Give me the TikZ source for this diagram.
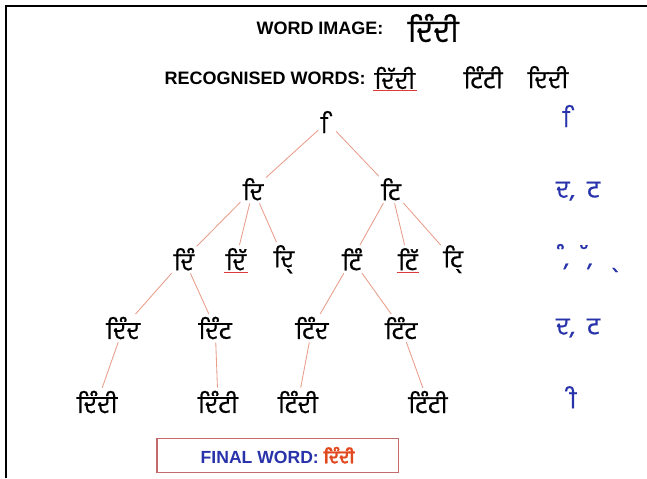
\documentclass[tikz,border=0pt]{standalone}
\usepackage{fontspec}
\setmainfont{Liberation Sans}
\newfontfamily\pa[Script=Gurmukhi, FakeBold=0.7]{Hind Jalandhar}
\usepackage{tikz}
\usetikzlibrary{positioning}

\definecolor{edgecol}{RGB}{232,156,138}
\definecolor{hintblue}{RGB}{40,50,170}
\definecolor{finalred}{RGB}{226,72,30}
\definecolor{boxred}{RGB}{196,106,106}
\definecolor{spellred}{RGB}{222,60,60}

\tikzset{
	word/.style={font=\pa\fontsize{17.5}{19}\selectfont, inner sep=1pt},
	hint/.style={font=\pa\fontsize{17.5}{19}\selectfont, text=hintblue, inner sep=1pt},
	caption/.style={font=\bfseries\fontsize{12.8}{14}\selectfont, inner sep=1pt},
	link/.style={draw=edgecol, line width=0.6pt, shorten >=1pt, shorten <=1pt},
	spell/.style={draw=spellred, line width=0.5pt}
}

\begin{document}
\begin{tikzpicture}[font=\small]
				\useasboundingbox (0,0) rectangle (16.175,-11.95);
				\draw[line width=1.4pt] (0.15,-11.95) -- (0.15,-0.15) -- (16.175,-0.15);
				
				% header
				\node[caption] (imglbl) at (8.0,-0.7) {WORD IMAGE:};
				\node[word, font=\pa\fontsize{22}{24}\selectfont, right=15pt of imglbl] (img) {ਦਿੰਦੀ};
				\node[caption] (reclbl) at (6.63,-1.95) {RECOGNISED WORDS:};
				\node[word, right=4pt of reclbl] (rw1) {ਦਿੱਦੀ};
				\node[word] (rw2) at (12.08,-1.93) {ਟਿੰਟੀ};
				\node[word] (rw3) at (13.7,-1.93) {ਦਿਦੀ};
				
				% tree
				\node[word] (root) at (8.18,-3.05) {^^^^00a0ਿ};
				
				\node[word] (d) at (6.33,-4.73) {ਦਿ};
				\node[word] (t) at (9.78,-4.73) {ਟਿ};
				
				\node[word] (d1) at (4.6,-6.48) {ਦਿੰ};
				\node[word] (d2) at (5.9,-6.48) {ਦਿੱ};
				\node[word] (d3) at (7.1,-6.48) {ਦਿ੍};
				\node[word] (t1) at (8.8,-6.48) {ਟਿੰ};
				\node[word] (t2) at (10.2,-6.48) {ਟਿੱ};
				\node[word] (t3) at (11.33,-6.48) {ਟਿ੍};
				
				\node[word] (dd) at (3.08,-8.2) {ਦਿੰਦ};
				\node[word] (dt) at (5.38,-8.2) {ਦਿੰਟ};
				\node[word] (td) at (7.8,-8.2) {ਟਿੰਦ};
				\node[word] (tt) at (10.03,-8.2) {ਟਿੰਟ};
				
				\node[word] (ddi) at (2.43,-10.05) {ਦਿੰਦੀ};
				\node[word] (dti) at (5.45,-10.05) {ਦਿੰਟੀ};
				\node[word] (tdi) at (7.45,-10.05) {ਟਿੰਦੀ};
				\node[word] (tti) at (10.7,-10.05) {ਟਿੰਟੀ};
				
				\draw[link] (root) -- (d);
				\draw[link] (root) -- (t);
				\draw[link] (d) -- (d1);
				\draw[link] (d) -- (d2);
				\draw[link] (d) -- (d3);
				\draw[link] (t) -- (t1);
				\draw[link] (t) -- (t2);
				\draw[link] (t) -- (t3);
				\draw[link] (d1) -- (dd);
				\draw[link] (d1) -- (dt);
				\draw[link] (t1) -- (td);
				\draw[link] (t1) -- (tt);
				\draw[link] (dd) -- (ddi);
				\draw[link] (dt) -- (dti);
				\draw[link] (td) -- (tdi);
				\draw[link] (tt) -- (tti);
				
				% misspelt words
				\draw[spell] (rw1.south west) -- (rw1.south east);
				\draw[spell] (d2.south west) -- (d2.south east);
				\draw[spell] (t2.south west) -- (t2.south east);
				
				% characters tried at each level
				\node[hint] (h1) at (14.23,-2.9) {^^^^00a0ਿ};
				\node[hint] (h2) at (14.45,-4.78) {ਦ,\ \ ਟ};
				\node[hint] (h3) at (14.68,-6.45) {^^^^00a0ੰ,\ \ ^^^^00a0ੱ,\ \ \ ^^^^00a0੍};
				\node[hint] (h4) at (14.45,-8.2) {ਦ,\ \ ਟ};
				\node[hint] (h5) at (14.25,-9.93) {^^^^00a0ੀ};
				
				\node[draw=boxred, line width=0.8pt, minimum width=6.03cm, minimum height=0.85cm] (final) at (6.94,-11.38)
					{\bfseries\fontsize{12.5}{14}\selectfont\color{hintblue}FINAL WORD: {\pa\color{finalred}ਦਿੰਦੀ}};
			\end{tikzpicture}
\end{document}
